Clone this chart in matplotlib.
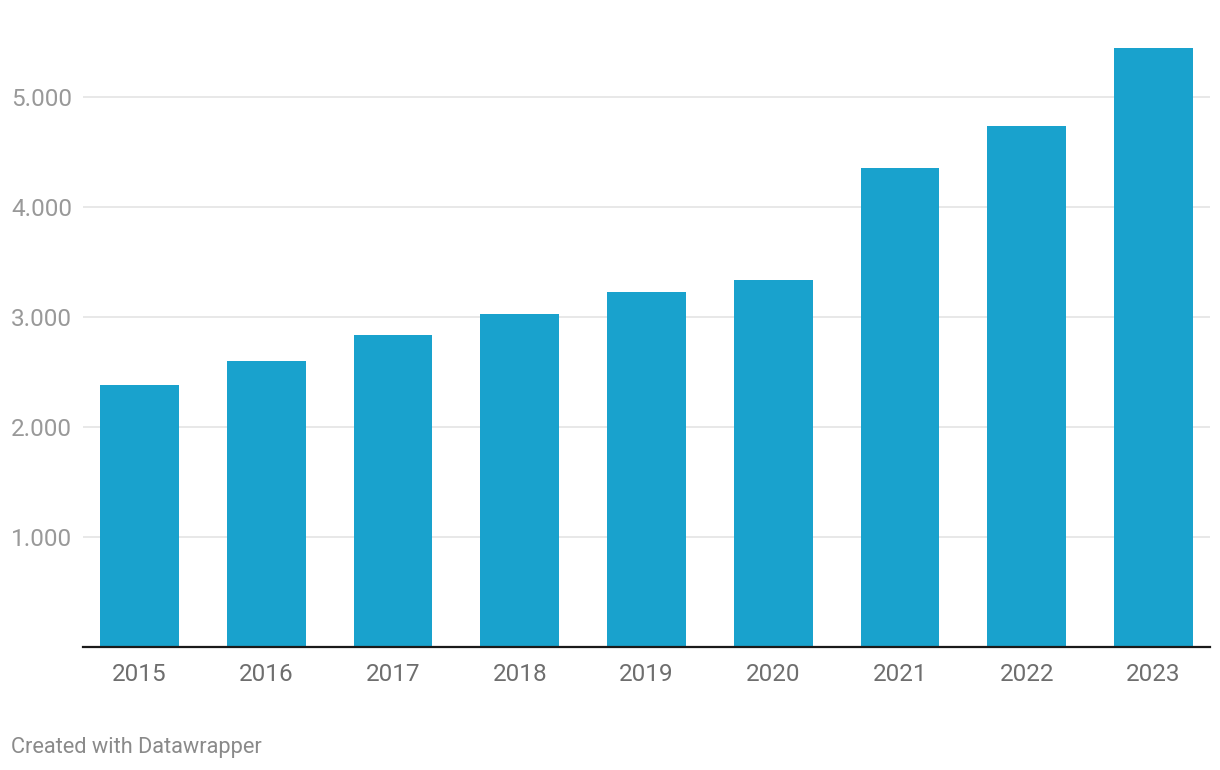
import matplotlib
matplotlib.use("Agg")
import matplotlib.pyplot as plt
from matplotlib.ticker import FuncFormatter

years = ["2015", "2016", "2017", "2018", "2019", "2020", "2021", "2022", "2023"]
values = [2380, 2600, 2840, 3030, 3230, 3340, 4353, 4734, 5442]
yticks = [1000, 2000, 3000, 4000, 5000]

plt.rcParams['font.family'] = ['Roboto', 'DejaVu Sans']

fig = plt.figure(figsize=(12.2, 7.7), dpi=100)
ax = fig.add_axes([83/1220, (770-647.4)/770, (1210-83)/1220, (647.4-42)/770])

x = list(range(len(years)))
ax.bar(x, values, width=0.623, color="#19a2cd", zorder=2)
ax.set_xlim(-0.446, len(years) - 1 + 0.446)
ax.set_ylim(0, 5497)

ax.set_yticks(yticks)
ax.yaxis.set_major_formatter(FuncFormatter(lambda v, p: f"{int(v):,}".replace(",", ".")))
ax.grid(axis="y", color="#e6e6e6", linewidth=1.3, zorder=0)
ax.set_xticks(x)
ax.set_xticklabels(years)

for s in ["top", "right", "left"]:
    ax.spines[s].set_visible(False)
ax.spines["bottom"].set_color("#1a1a1a")
ax.spines["bottom"].set_linewidth(1.6)
ax.spines["bottom"].set_zorder(3)

ax.tick_params(axis="y", length=0, pad=8, labelsize=17.5, labelcolor="#999999")
ax.tick_params(axis="x", length=0, pad=11.5, labelsize=17.5, labelcolor="#6e6e6e")

fig.text(11/1220, 1 - 747/770, "Created with Datawrapper", fontsize=15.7, color="#8a8a8a",
         va="center", ha="left")

fig.savefig("out.png", dpi=100, facecolor="white")
